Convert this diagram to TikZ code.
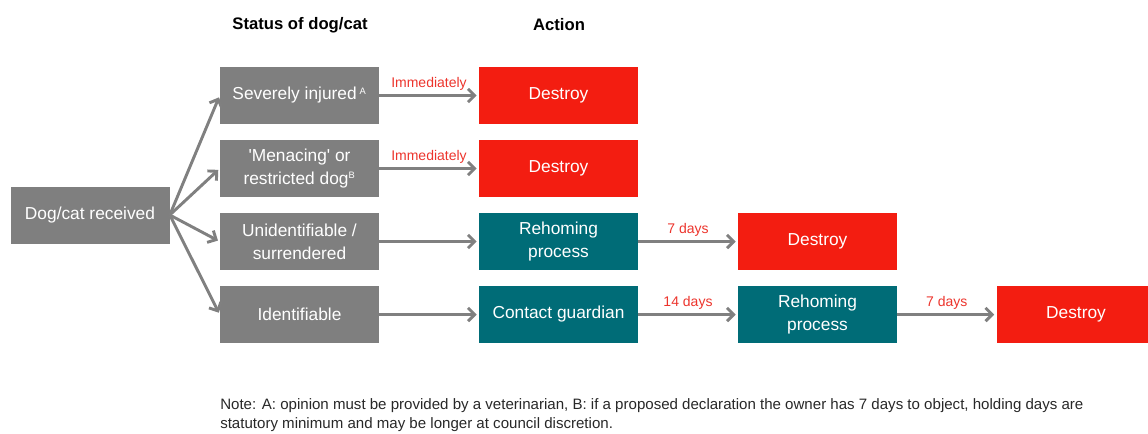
\documentclass[tikz,border=0pt]{standalone}
\usepackage{fontspec}
\setmainfont{Liberation Sans}
\usetikzlibrary{arrows.meta}
\definecolor{statusgrey}{RGB}{127,127,127}
\definecolor{flowgrey}{RGB}{128,128,128}
\definecolor{destroyred}{RGB}{243,29,17}
\definecolor{rehometeal}{RGB}{0,108,119}
\definecolor{delayred}{RGB}{236,52,44}
\definecolor{notegrey}{RGB}{40,40,40}

\begin{document}
\begin{tikzpicture}[x=0.75pt,y=-0.75pt]

%
% Styles
%
\tikzstyle{box}     = [minimum width=119.25pt,minimum height=42.75pt,inner sep=0pt,
                       align=center,text=white,font=\fontsize{13}{17.5}\selectfont]
\tikzstyle{status}  = [box,fill=statusgrey]
\tikzstyle{destroy} = [box,fill=destroyred]
\tikzstyle{rehome}  = [box,fill=rehometeal]
\tikzstyle{header}  = [font=\fontsize{12.5}{15}\selectfont\bfseries]
\tikzstyle{flow}    = [-{Straight Barb[length=5pt,width=10pt]},line width=2.2pt,
                       draw=flowgrey,shorten >=1.5pt]
\tikzstyle{delay}   = [above,inner sep=3pt,text=delayred,font=\fontsize{10.5}{12}\selectfont]

\useasboundingbox (0,0) rectangle (1148,433);

\node[header] (hstatus) at (300,25) {Status of dog/cat};
\node[header] (haction) at (559,25) {Action};

\node[status]  (rcv)  at (90,215)      {Dog/cat received};
\node[status]  (sev)  at (299.5,95.5)  {Severely injured\,\textsuperscript{\scriptsize A}};
\node[status]  (men)  at (299.5,168.5) {\textquotesingle Menacing\textquotesingle{} or\\restricted dog\textsuperscript{\scriptsize B}};
\node[status]  (unid) at (299.5,241.5) {Unidentifiable /\\surrendered};
\node[status]  (iden) at (299.5,314.5) {Identifiable};

\node[destroy] (d1)   at (558.5,95.5)  {Destroy};
\node[destroy] (d2)   at (558.5,168.5) {Destroy};
\node[rehome]  (rh1)  at (558.5,241.5) {Rehoming\\process};
\node[rehome]  (cg)   at (558.5,314.5) {Contact guardian};
\node[destroy] (d3)   at (817.5,241.5) {Destroy};
\node[rehome]  (rh2)  at (817.5,314.5) {Rehoming\\process};
\node[destroy] (d4)   at (1076,314.5)  {Destroy};

\draw[flow] (rcv.east) -- (sev.west);
\draw[flow] (rcv.east) -- (men.west);
\draw[flow] (rcv.east) -- (unid.west);
\draw[flow] (rcv.east) -- (iden.west);

\draw[flow] (sev)  -- node[delay] {Immediately} (d1);
\draw[flow] (men)  -- node[delay] {Immediately} (d2);
\draw[flow] (unid) -- (rh1);
\draw[flow] (iden) -- (cg);
\draw[flow] (rh1)  -- node[delay] {7 days} (d3);
\draw[flow] (cg)   -- node[delay] {14 days} (rh2);
\draw[flow] (rh2)  -- node[delay] {7 days} (d4);

\node[anchor=north west,align=left,inner sep=0pt,text=notegrey,
      font=\fontsize{11.3}{14.3}\selectfont] (note) at (220,398)
  {Note: A: opinion must be provided by a veterinarian, B: if a proposed declaration the owner has 7 days to object, holding days are\\
   statutory minimum and may be longer at council discretion.};

\end{tikzpicture}
\end{document}
